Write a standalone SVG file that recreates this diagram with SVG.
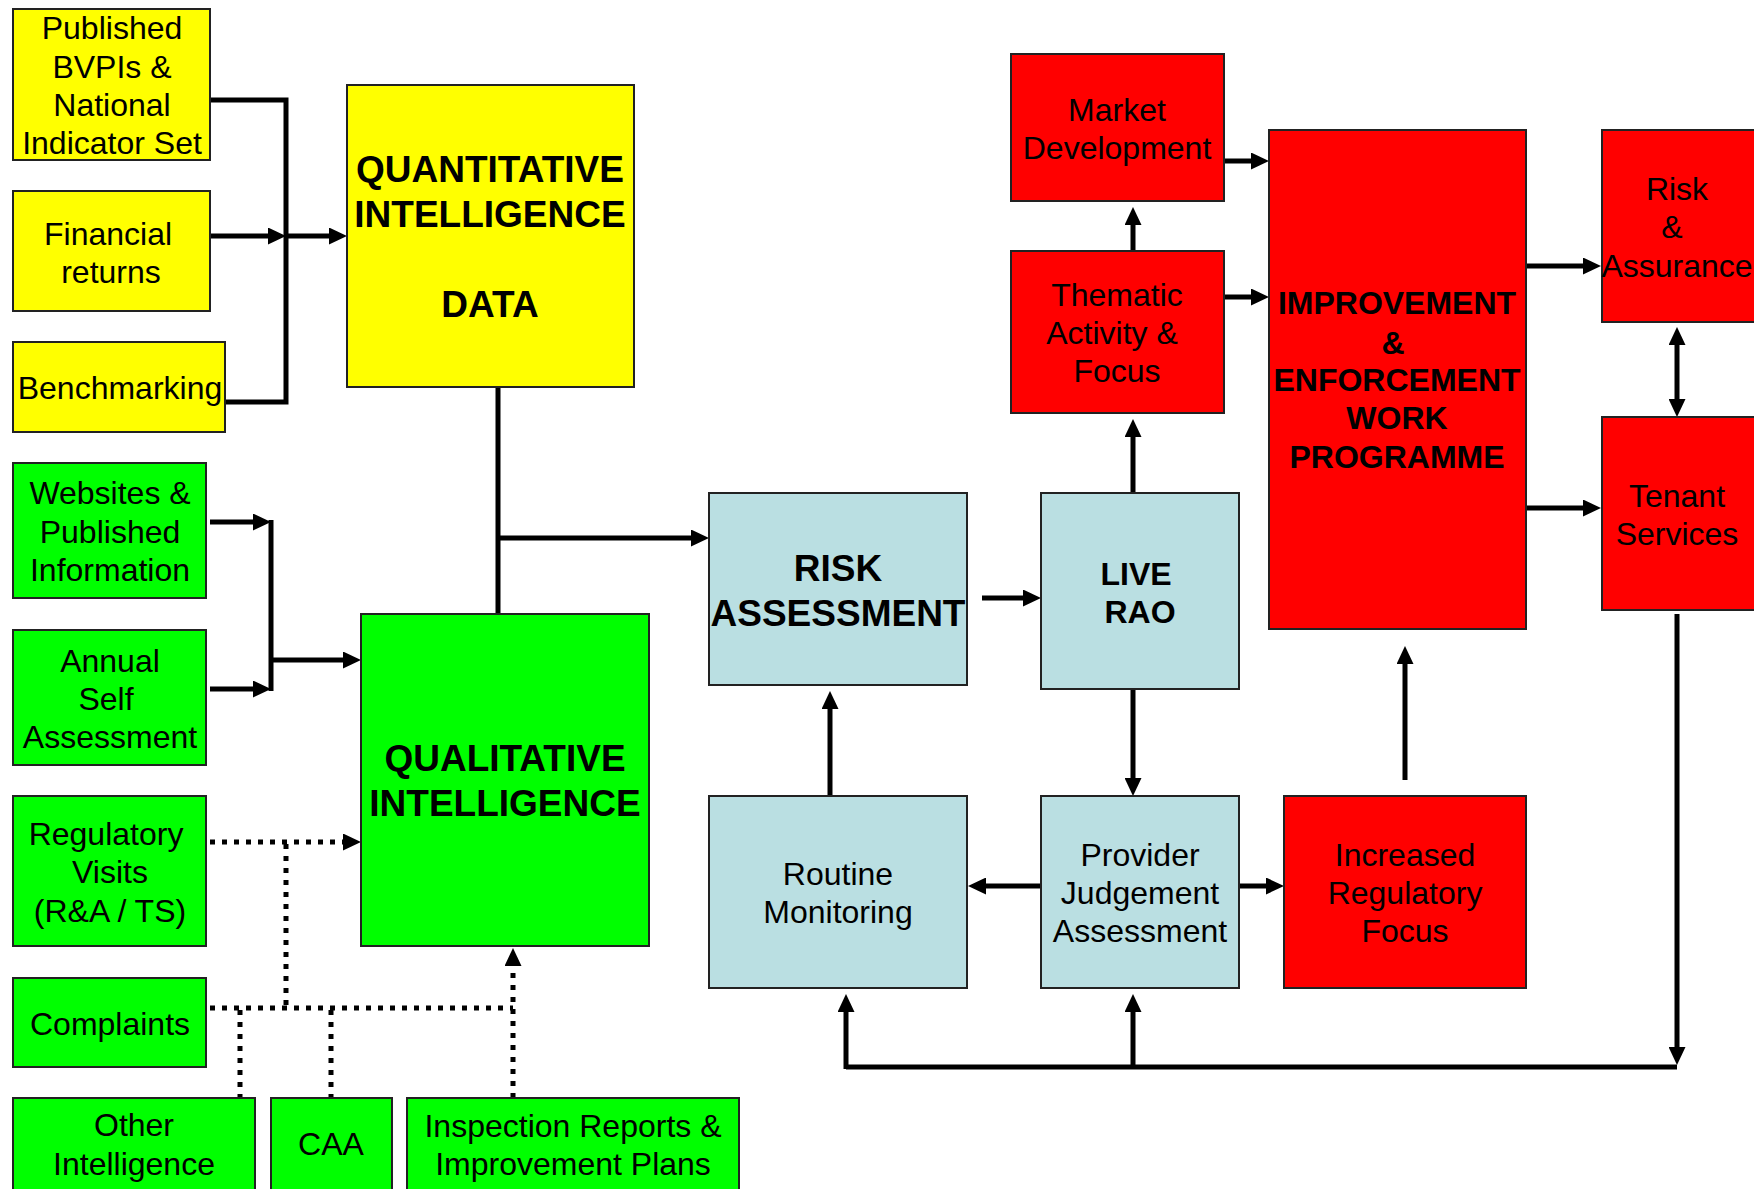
<svg xmlns="http://www.w3.org/2000/svg" width="1754" height="1189" viewBox="0 0 1754 1189">
<style>
.box{stroke:#222;stroke-width:2}
.y{fill:#FFFF00}.g{fill:#00FF00}.b{fill:#BADFE2}.r{fill:#FF0000}
text{font-family:"Liberation Sans",Arial,sans-serif;fill:#000;text-anchor:middle}
.t{font-size:32px}
.bt{font-size:37px;font-weight:bold}
.bm{font-size:32px;font-weight:bold}
.c{fill:none;stroke:#000;stroke-width:5}
.d{fill:none;stroke:#000;stroke-width:5;stroke-dasharray:5 7}
</style>
<defs>
<marker id="ah" markerUnits="userSpaceOnUse" markerWidth="18" markerHeight="17" refX="8" refY="8.5" orient="auto-start-reverse">
<path d="M0,0 L18,8.5 L0,17 z" fill="#000"/>
</marker>
</defs>
<rect width="1754" height="1189" fill="#fff"/>

<g id="connectors">
<path class="c" d="M210,100 H286 V402 H225"/>
<path class="c" d="M210,236 H276" marker-end="url(#ah)"/>
<path class="c" d="M286,236 H337" marker-end="url(#ah)"/>
<path class="c" d="M210,522 H261" marker-end="url(#ah)"/>
<path class="c" d="M210,689 H261" marker-end="url(#ah)"/>
<path class="c" d="M271,520 V691"/>
<path class="c" d="M271,660 H351" marker-end="url(#ah)"/>
<path class="c" d="M498,387 V614"/>
<path class="c" d="M498,538 H699" marker-end="url(#ah)"/>
<path class="c" d="M982,598 H1031" marker-end="url(#ah)"/>
<path class="c" d="M1133,493 V429" marker-end="url(#ah)"/>
<path class="c" d="M1133,251 V217" marker-end="url(#ah)"/>
<path class="c" d="M1224,161 H1259" marker-end="url(#ah)"/>
<path class="c" d="M1224,297 H1259" marker-end="url(#ah)"/>
<path class="c" d="M1526,266 H1591" marker-end="url(#ah)"/>
<path class="c" d="M1526,508 H1591" marker-end="url(#ah)"/>
<path class="c" d="M1677,337 V407" marker-start="url(#ah)" marker-end="url(#ah)"/>
<path class="c" d="M1677,614 V1055" marker-end="url(#ah)"/>
<path class="c" d="M846,1067 H1677"/>
<path class="c" d="M846,1069 V1004" marker-end="url(#ah)"/>
<path class="c" d="M1133,1067 V1004" marker-end="url(#ah)"/>
<path class="c" d="M830,796 V701" marker-end="url(#ah)"/>
<path class="c" d="M1133,690 V786" marker-end="url(#ah)"/>
<path class="c" d="M1041,886 H978" marker-end="url(#ah)"/>
<path class="c" d="M1240,886 H1274" marker-end="url(#ah)"/>
<path class="c" d="M1405,780 V656" marker-end="url(#ah)"/>
<path class="d" d="M210,842 H351" marker-end="url(#ah)"/>
<path class="d" d="M286,844 V1008"/>
<path class="d" d="M210,1008 H513"/>
<path class="d" d="M240,1010 V1098"/>
<path class="d" d="M331,1010 V1098"/>
<path class="d" d="M513,1098 V958" marker-end="url(#ah)"/>
</g>

<g id="published">
<rect class="box y" x="13" y="9" width="197" height="151"/>
<text class="t" x="112" y="39">Published</text>
<text class="t" x="112" y="78">BVPIs &amp;</text>
<text class="t" x="112" y="116">National</text>
<text class="t" x="112" y="154">Indicator Set</text>
</g>
<g id="financial">
<rect class="box y" x="13" y="191" width="197" height="120"/>
<text class="t" x="108" y="245">Financial</text>
<text class="t" x="111" y="283">returns</text>
</g>
<g id="benchmarking">
<rect class="box y" x="13" y="342" width="212" height="90"/>
<text class="t" x="120" y="399">Benchmarking</text>
</g>
<g id="quantitative">
<rect class="box y" x="347" y="85" width="287" height="302"/>
<text class="bt" x="490" y="182">QUANTITATIVE</text>
<text class="bt" x="490" y="227">INTELLIGENCE</text>
<text class="bt" x="490" y="317">DATA</text>
</g>
<g id="websites">
<rect class="box g" x="13" y="463" width="193" height="135"/>
<text class="t" x="110" y="504">Websites &amp;</text>
<text class="t" x="110" y="543">Published</text>
<text class="t" x="110" y="581">Information</text>
</g>
<g id="annual">
<rect class="box g" x="13" y="630" width="193" height="135"/>
<text class="t" x="110" y="672">Annual</text>
<text class="t" x="106" y="710">Self</text>
<text class="t" x="110" y="748">Assessment</text>
</g>
<g id="regulatory">
<rect class="box g" x="13" y="796" width="193" height="150"/>
<text class="t" x="106" y="845">Regulatory</text>
<text class="t" x="110" y="883">Visits</text>
<text class="t" x="110" y="922">(R&amp;A / TS)</text>
</g>
<g id="complaints">
<rect class="box g" x="13" y="978" width="193" height="89"/>
<text class="t" x="110" y="1035">Complaints</text>
</g>
<g id="other">
<rect class="box g" x="13" y="1098" width="242" height="95"/>
<text class="t" x="134" y="1136">Other</text>
<text class="t" x="134" y="1175">Intelligence</text>
</g>
<g id="caa">
<rect class="box g" x="271" y="1098" width="121" height="95"/>
<text class="t" x="331" y="1155">CAA</text>
</g>
<g id="inspection">
<rect class="box g" x="407" y="1098" width="332" height="95"/>
<text class="t" x="573" y="1137">Inspection Reports &amp;</text>
<text class="t" x="573" y="1175">Improvement Plans</text>
</g>
<g id="qualitative">
<rect class="box g" x="361" y="614" width="288" height="332"/>
<text class="bt" x="505" y="771">QUALITATIVE</text>
<text class="bt" x="505" y="816">INTELLIGENCE</text>
</g>
<g id="risk-assessment">
<rect class="box b" x="709" y="493" width="258" height="192"/>
<text class="bt" x="838" y="581">RISK</text>
<text class="bt" x="838" y="626">ASSESSMENT</text>
</g>
<g id="live-rao">
<rect class="box b" x="1041" y="493" width="198" height="196"/>
<text class="bm" x="1136" y="585">LIVE</text>
<text class="bm" x="1140" y="623">RAO</text>
</g>
<g id="routine">
<rect class="box b" x="709" y="796" width="258" height="192"/>
<text class="t" x="838" y="885">Routine</text>
<text class="t" x="838" y="923">Monitoring</text>
</g>
<g id="provider">
<rect class="box b" x="1041" y="796" width="198" height="192"/>
<text class="t" x="1140" y="866">Provider</text>
<text class="t" x="1140" y="904">Judgement</text>
<text class="t" x="1140" y="942">Assessment</text>
</g>
<g id="increased">
<rect class="box r" x="1284" y="796" width="242" height="192"/>
<text class="t" x="1405" y="866">Increased</text>
<text class="t" x="1405" y="904">Regulatory</text>
<text class="t" x="1405" y="942">Focus</text>
</g>
<g id="market">
<rect class="box r" x="1011" y="54" width="213" height="147"/>
<text class="t" x="1117" y="121">Market</text>
<text class="t" x="1117" y="159">Development</text>
</g>
<g id="thematic">
<rect class="box r" x="1011" y="251" width="213" height="162"/>
<text class="t" x="1117" y="306">Thematic</text>
<text class="t" x="1112" y="344">Activity &amp;</text>
<text class="t" x="1117" y="382">Focus</text>
</g>
<g id="improvement">
<rect class="box r" x="1269" y="130" width="257" height="499"/>
<text class="bm" x="1397" y="314">IMPROVEMENT</text>
<text class="bm" x="1393" y="354">&amp;</text>
<text class="bm" x="1397" y="391">ENFORCEMENT</text>
<text class="bm" x="1397" y="429">WORK</text>
<text class="bm" x="1397" y="468">PROGRAMME</text>
</g>
<g id="risk-assurance">
<rect class="box r" x="1602" y="130" width="160" height="192"/>
<text class="t" x="1677" y="200">Risk</text>
<text class="t" x="1672" y="238">&amp;</text>
<text class="t" x="1677" y="277">Assurance</text>
</g>
<g id="tenant">
<rect class="box r" x="1602" y="417" width="160" height="193"/>
<text class="t" x="1677" y="507">Tenant</text>
<text class="t" x="1677" y="545">Services</text>
</g>
</svg>
